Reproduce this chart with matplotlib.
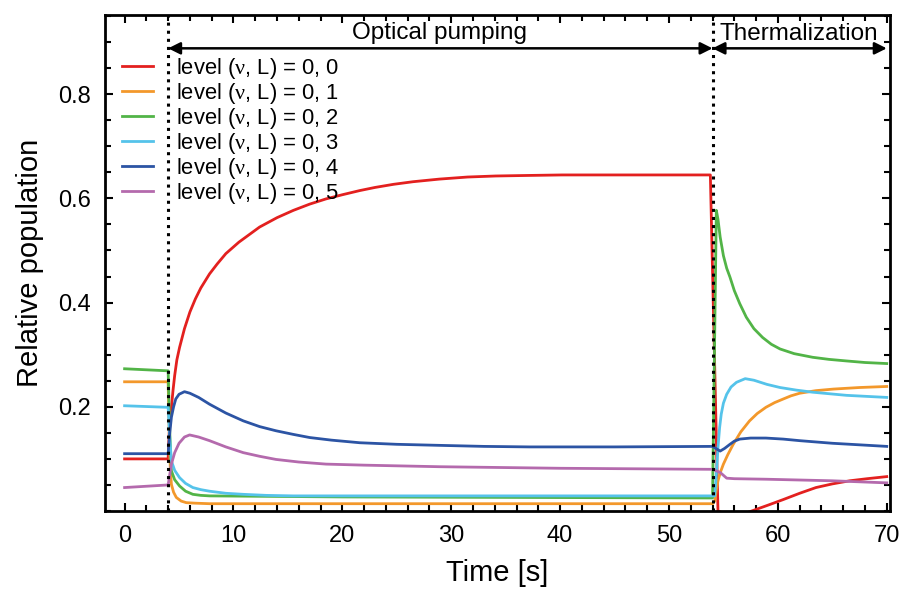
import matplotlib
matplotlib.use("Agg")
from matplotlib import pyplot as plt
from matplotlib.ticker import MultipleLocator

plt.rcParams['font.family'] = ['Liberation Sans', 'DejaVu Sans']
plt.rcParams['mathtext.fontset'] = 'custom'
plt.rcParams['mathtext.rm'] = 'Liberation Serif'

# level (v, L) = 0, 0
t_red = [0, 4.0, 4.05, 4.1, 4.2, 4.3, 4.45, 4.6, 4.8, 5.05, 5.5, 6.0, 6.5, 7.0, 7.8, 8.5, 9.3, 10.5, 12.4,
         14.0, 15.5, 17.0, 18.5, 20.0, 21.6, 23.0, 24.7, 26.5, 28.9, 31.5, 34.1, 37.0, 40.2, 53.8,
         54.5, 55.5, 56.5, 57.2, 58.0, 59.2, 60.5, 62.0, 63.5, 65.0, 66.6, 68.2, 70]
v_red = [0.100, 0.100, 0.130, 0.150, 0.177, 0.199, 0.232, 0.260, 0.290, 0.314, 0.350, 0.382, 0.407, 0.428,
         0.455, 0.474, 0.494, 0.516, 0.545, 0.563, 0.577, 0.589, 0.599, 0.607, 0.615, 0.621, 0.627, 0.632,
         0.637, 0.641, 0.643, 0.644, 0.645, 0.645, 0.0, -0.008, -0.007, -0.003, 0.003, 0.012, 0.022,
         0.034, 0.045, 0.052, 0.058, 0.062, 0.066]
# level 0, 1
t_orange = [0, 4.0, 4.1, 4.2, 4.3, 4.5, 4.75, 5.2, 5.67, 6.5, 7.8, 54.0, 54.2, 54.35, 54.5, 54.75, 55.0,
            55.4, 55.9, 56.6, 57.4, 58.1, 58.9, 59.7, 60.5, 61.2, 62.0, 63.5, 65.1, 67.5, 70]
v_orange = [0.248, 0.248, 0.150, 0.080, 0.051, 0.036, 0.026, 0.019, 0.016, 0.015, 0.014, 0.014, 0.019,
            0.040, 0.058, 0.076, 0.090, 0.108, 0.128, 0.152, 0.173, 0.187, 0.199, 0.208, 0.215, 0.221,
            0.226, 0.231, 0.234, 0.237, 0.239]
# level 0, 2
t_green = [0, 4.0, 4.15, 4.3, 4.6, 5.05, 5.6, 6.27, 7.0, 7.8, 20, 54.0, 54.35, 54.5, 54.7, 55.0, 55.3,
           55.6, 56.0, 56.5, 57.1, 57.8, 58.6, 59.4, 60.2, 61.5, 63.2, 64.7, 66.3, 68.0, 70]
v_green = [0.273, 0.269, 0.150, 0.077, 0.060, 0.048, 0.038, 0.032, 0.030, 0.029, 0.027, 0.025, 0.577,
           0.560, 0.526, 0.490, 0.466, 0.449, 0.423, 0.398, 0.372, 0.350, 0.333, 0.320, 0.311, 0.302,
           0.295, 0.291, 0.288, 0.285, 0.283]
# level 0, 3
t_cyan = [0, 4.0, 4.15, 4.3, 4.6, 5.05, 5.6, 6.27, 7.0, 7.8, 9.3, 10.9, 13.0, 15.5, 54.2, 54.35, 54.5,
          54.65, 54.8, 55.0, 55.3, 55.7, 56.2, 57.0, 57.8, 59.0, 60.2, 61.7, 63.2, 66.3, 70]
v_cyan = [0.202, 0.199, 0.140, 0.096, 0.078, 0.064, 0.053, 0.045, 0.041, 0.038, 0.034, 0.032, 0.030,
          0.029, 0.029, 0.070, 0.122, 0.160, 0.186, 0.207, 0.224, 0.238, 0.247, 0.254, 0.251, 0.243,
          0.237, 0.232, 0.228, 0.222, 0.218]
# level 0, 4
t_blue = [0, 4.0, 4.15, 4.3, 4.5, 4.7, 5.0, 5.5, 6.0, 6.8, 7.8, 9.3, 10.9, 12.4, 13.9, 15.5, 17.0, 19.0,
          21.6, 25.0, 28.9, 33.0, 37.2, 45.0, 54.0, 54.7, 55.1, 55.6, 56.0, 56.5, 57.5, 58.9, 60.5,
          62.0, 65.0, 70]
v_blue = [0.110, 0.110, 0.150, 0.180, 0.200, 0.215, 0.224, 0.229, 0.226, 0.218, 0.205, 0.188, 0.173,
          0.162, 0.154, 0.147, 0.141, 0.136, 0.131, 0.128, 0.126, 0.124, 0.123, 0.123, 0.124, 0.115,
          0.120, 0.128, 0.134, 0.138, 0.140, 0.140, 0.138, 0.135, 0.130, 0.124]
# level 0, 5
t_mag = [0, 4.0, 4.15, 4.3, 4.6, 5.0, 5.5, 5.97, 6.8, 7.8, 9.3, 10.9, 12.4, 13.9, 16.0, 18.5, 22.0, 28.9,
         40.0, 54.0, 54.7, 55.3, 56.0, 58.9, 65.0, 70]
v_mag = [0.045, 0.050, 0.070, 0.090, 0.112, 0.130, 0.142, 0.146, 0.142, 0.135, 0.123, 0.112, 0.105,
         0.099, 0.094, 0.090, 0.088, 0.085, 0.082, 0.080, 0.074, 0.063, 0.062, 0.061, 0.058, 0.054]

series = [(t_red, v_red, '#e3201f'), (t_orange, v_orange, '#f3982b'), (t_green, v_green, '#52b447'),
          (t_cyan, v_cyan, '#55c3ea'), (t_blue, v_blue, '#2c54a4'), (t_mag, v_mag, '#b46aad')]
labels = ['level ($\\mathrm{ν}$, L) = 0, %d' % i for i in range(6)]

t_pump_on = 4
t_pump_off = 54
t_end = 70

fig = plt.figure(figsize=(9.02, 5.9), dpi=100)
ax = fig.add_axes([0.1164, 0.1339, 0.8703, 0.8407])

for (t, v, c), lab in zip(series, labels):
    ax.plot(t, v, color=c, lw=2, label=lab)

ax.axvline(t_pump_on, color='k', ls=':', lw=2.2)
ax.axvline(t_pump_off, color='k', ls=':', lw=2.2)

arrow_y = 0.888
ax.annotate('', xy=(t_pump_on, arrow_y), xytext=(t_pump_off, arrow_y),
            arrowprops=dict(arrowstyle='<|-|>', color='k', lw=1.8, mutation_scale=18, shrinkA=0, shrinkB=0))
ax.annotate('', xy=(t_pump_off, arrow_y), xytext=(t_end, arrow_y),
            arrowprops=dict(arrowstyle='<|-|>', color='k', lw=1.8, mutation_scale=18, shrinkA=0, shrinkB=0))
ax.text(28.9, 0.918, 'Optical pumping', ha='center', va='center', fontsize=17.5)
ax.text(61.9, 0.915, 'Thermalization', ha='center', va='center', fontsize=17.5)

ax.set_xlim(-1.8, 70.3)
ax.set_ylim(0, 0.952)
ax.set_xticks([0, 10, 20, 30, 40, 50, 60, 70])
ax.set_yticks([0.2, 0.4, 0.6, 0.8])
ax.xaxis.set_minor_locator(MultipleLocator(2))
ax.yaxis.set_minor_locator(MultipleLocator(0.05))
ax.tick_params(which='both', direction='in', top=True, right=True, width=1.5)
ax.tick_params(which='major', length=6, labelsize=17, pad=10)
ax.tick_params(which='minor', length=4)
for s in ax.spines.values():
    s.set_linewidth(2)

ax.set_xlabel('Time [s]', fontsize=21, labelpad=9)
ax.set_ylabel('Relative population', fontsize=21, labelpad=10)

ax.legend(loc='upper left', bbox_to_anchor=(0.0217, 0.917), frameon=False, fontsize=15.8,
          handlelength=1.4, handletextpad=1.05, labelspacing=0.0, borderpad=0, borderaxespad=0)

fig.savefig('out.png', dpi=100)
